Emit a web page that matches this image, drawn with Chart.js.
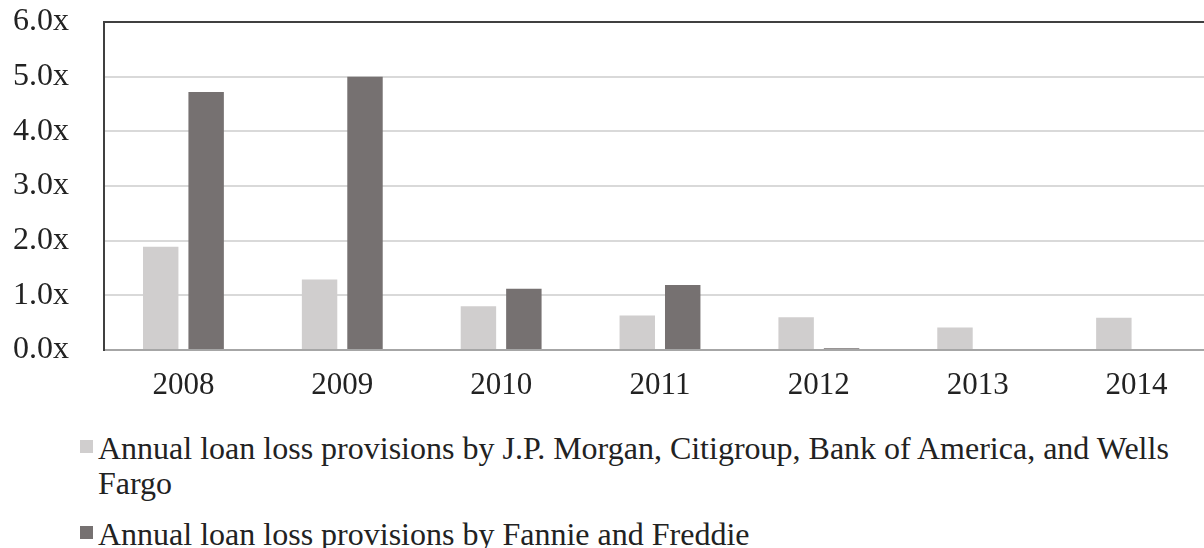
<!DOCTYPE html>
<html>
<head>
<meta charset="utf-8">
<script src="https://cdn.jsdelivr.net/npm/chart.js@4.4.1/dist/chart.umd.min.js"></script>
<style>
  html, body { margin: 0; padding: 0; background: #fff; overflow: hidden; }
  #wrap { position: relative; width: 1204px; height: 548px; overflow: hidden; }
  #chart { position: absolute; left: 0; top: 0; }
  #legend { position: absolute; left: 80px; top: 431px; width: 1110px;
            font-family: "Liberation Serif", "Times New Roman", serif; font-size: 32px;
            line-height: 35px; color: #222; }
  .item { position: relative; padding-left: 18px; margin-bottom: 16px; }
  .swatch { position: absolute; left: 0; top: 9px; width: 13px; height: 13px; }
</style>
</head>
<body>
<div id="wrap">
  <canvas id="chart" width="1216" height="410"></canvas>
  <div id="legend"></div>
</div>
<script>
const years = ['2008', '2009', '2010', '2011', '2012', '2013', '2014'];
const bankProvisions = [1.89, 1.29, 0.80, 0.63, 0.60, 0.41, 0.59];
const gseProvisions = [4.72, 5.00, 1.12, 1.19, 0.03, 0, 0];
const seriesNames = [
    'Annual loan loss provisions by J.P. Morgan, Citigroup, Bank of America, and Wells Fargo',
    'Annual loan loss provisions by Fannie and Freddie'
];
const seriesColors = ['#d0cece', '#767171'];

const serif = '"Liberation Serif", "Times New Roman", serif';

function buildLegend() {
    const legend = document.getElementById('legend');
    seriesNames.forEach((name, i) => {
        const item = document.createElement('div');
        item.className = 'item';
        item.innerHTML = `<span class="swatch" style="background:${seriesColors[i]}"></span>${name}`;
        legend.appendChild(item);
    });
}

function drawChart() {
    const ctx = document.getElementById('chart').getContext('2d');
    new Chart(ctx, {
        type: 'bar',
        data: {
            labels: years,
            datasets: [{
                label: seriesNames[0],
                data: bankProvisions,
                backgroundColor: seriesColors[0]
            }, {
                label: seriesNames[1],
                data: gseProvisions,
                backgroundColor: seriesColors[1]
            }]
        },
        options: {
            responsive: false,
            animation: false,
            devicePixelRatio: 1,
            categoryPercentage: 0.572,
            barPercentage: 0.78,
            layout: { padding: { top: 22, right: 0, left: 0, bottom: 0 } },
            plugins: {
                legend: { display: false },
                tooltip: { enabled: false }
            },
            scales: {
                x: {
                    grid: { display: false, drawTicks: false },
                    border: { color: '#a6a6a6', width: 2 },
                    ticks: {
                        color: '#222',
                        padding: 17,
                        font: { family: serif, size: 31 }
                    },
                    afterFit: (scale) => { scale.height = 60; }
                },
                y: {
                    min: 0,
                    max: 6,
                    grid: {
                        drawTicks: false,
                        lineWidth: 2,
                        color: (c) => c.tick && c.tick.value === 6 ? '#404040' : '#d9d9d9'
                    },
                    border: { color: '#404040', width: 2 },
                    ticks: {
                        stepSize: 1,
                        color: '#222',
                        padding: 35,
                        font: { family: serif, size: 32 },
                        callback: (v) => v.toFixed(1) + 'x'
                    },
                    afterFit: (scale) => {
                        scale.width = 104;
                        scale.paddingTop = 0;
                        scale.paddingBottom = 0;
                    }
                }
            }
        }
    });
}

buildLegend();
drawChart();
</script>
</body>
</html>
